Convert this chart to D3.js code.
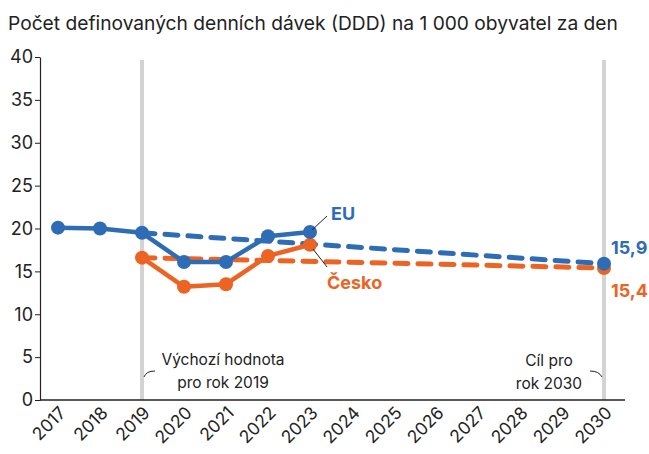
<!DOCTYPE html>
<html>
<head>
<meta charset="utf-8">
<script src="https://cdn.jsdelivr.net/npm/d3@7"></script>
<style>
  body { margin: 0; background: #fff; }
  text { font-family: Inter, Roboto, sans-serif; }
</style>
</head>
<body>
<script>
const years = [2017, 2018, 2019, 2020, 2021, 2022, 2023, 2024, 2025, 2026, 2027, 2028, 2029, 2030];
const yTicks = [0, 5, 10, 15, 20, 25, 30, 35, 40];

const euYears = [2017, 2018, 2019, 2020, 2021, 2022, 2023];
const euValues = [20.1, 20.0, 19.5, 16.1, 16.1, 19.1, 19.6];

const czYears = [2019, 2020, 2021, 2022, 2023];
const czValues = [16.6, 13.2, 13.5, 16.8, 18.1];

// target path from baseline 2019 to 2030
const targetYears = [2019, 2030];
const euTarget = [19.5, 15.9];
const czTarget = [16.6, 15.4];

const w = 649;
const h = 454;
const blue = "#2e6db5";
const orange = "#ec6423";
const grey = "#d3d3d3";

const xScale = d3.scaleLinear().domain([2017, 2030]).range([58, 604]);
const yScale = d3.scaleLinear().domain([0, 40]).range([400, 57]);

const svg = d3.select("body").append("svg").attr("width", w).attr("height", h);

svg.append("text")
  .attr("x", 8)
  .attr("y", 30)
  .attr("font-size", 19.2)
  .attr("fill", "#222")
  .text("Počet definovaných denních dávek (DDD) na 1 000 obyvatel za den");

// grey reference lines
svg.selectAll(".ref")
  .data(targetYears)
  .enter()
  .append("line")
  .attr("x1", (d) => xScale(d))
  .attr("x2", (d) => xScale(d))
  .attr("y1", 60)
  .attr("y2", yScale(0))
  .attr("stroke", grey)
  .attr("stroke-width", 4);

// y axis
const yAxis = d3.axisLeft(yScale).tickValues(yTicks).tickSize(5).tickSizeOuter(0);
const gy = svg.append("g").attr("transform", "translate(40,0)").call(yAxis);
gy.select(".domain").attr("stroke", "#222").attr("stroke-width", 1.2);
gy.selectAll(".tick line").attr("stroke", "#222");
gy.selectAll(".tick text")
  .attr("font-size", 18)
  .attr("fill", "#222")
  .attr("x", -7)
  .attr("font-family", "Inter, Roboto, sans-serif");

// x axis
svg.append("line")
  .attr("x1", 40).attr("x2", 625)
  .attr("y1", yScale(0)).attr("y2", yScale(0))
  .attr("stroke", "#222").attr("stroke-width", 1.4);

svg.selectAll(".xlab")
  .data(years)
  .enter()
  .append("text")
  .attr("text-anchor", "end")
  .attr("font-size", 17.5)
  .attr("fill", "#222")
  .attr("transform", (d) => "translate(" + (xScale(d) + 9) + "," + (yScale(0) + 14) + ") rotate(-45)")
  .text((d) => d);

// annotations
const ann = svg.append("g").attr("font-size", 15.5).attr("fill", "#222").attr("text-anchor", "middle");
ann.append("text").attr("x", 223).attr("y", 365).text("Výchozí hodnota");
ann.append("text").attr("x", 223).attr("y", 388).text("pro rok 2019");
ann.append("text").attr("x", 549).attr("y", 366).text("Cíl pro");
ann.append("text").attr("x", 549).attr("y", 389).text("rok 2030");

svg.append("path")
  .attr("d", "M" + (xScale(2019) + 2) + ",377 Q" + (xScale(2019) + 4) + ",371 " + (xScale(2019) + 13) + ",371")
  .attr("fill", "none").attr("stroke", "#222").attr("stroke-width", 1);
svg.append("path")
  .attr("d", "M" + (xScale(2030) - 14) + ",371 Q" + (xScale(2030) - 5) + ",371 " + (xScale(2030) - 2) + ",377")
  .attr("fill", "none").attr("stroke", "#222").attr("stroke-width", 1);

const line = d3.line().x((d) => xScale(d[0])).y((d) => yScale(d[1]));

function dashed(vals, color) {
  svg.append("path")
    .datum(targetYears.map((y, i) => [y, vals[i]]))
    .attr("d", line)
    .attr("fill", "none")
    .attr("stroke", color)
    .attr("stroke-width", 5)
    .attr("stroke-linecap", "round")
    .attr("stroke-dasharray", "13,10");
}

function solid(ys, vals, color) {
  const pts = ys.map((y, i) => [y, vals[i]]);
  svg.append("path")
    .datum(pts)
    .attr("d", line)
    .attr("fill", "none")
    .attr("stroke", color)
    .attr("stroke-width", 4.5)
    .attr("stroke-linejoin", "round");
  svg.append("g")
    .selectAll("circle")
    .data(pts)
    .enter()
    .append("circle")
    .attr("cx", (d) => xScale(d[0]))
    .attr("cy", (d) => yScale(d[1]))
    .attr("r", 7)
    .attr("fill", color);
}

dashed(czTarget, orange);
dashed(euTarget, blue);
solid(czYears, czValues, orange);
solid(euYears, euValues, blue);

// target dots
svg.append("circle").attr("cx", xScale(2030)).attr("cy", yScale(czTarget[1])).attr("r", 7).attr("fill", orange);
svg.append("circle").attr("cx", xScale(2030)).attr("cy", yScale(euTarget[1])).attr("r", 7).attr("fill", blue);

// series labels with leaders
svg.append("line").attr("x1", 312).attr("y1", 230).attr("x2", 327).attr("y2", 216).attr("stroke", "#222").attr("stroke-width", 1);
svg.append("line").attr("x1", 313).attr("y1", 249).attr("x2", 327).attr("y2", 267).attr("stroke", "#222").attr("stroke-width", 1);

svg.append("text").attr("x", 331).attr("y", 220).attr("font-size", 18).attr("font-weight", "bold").attr("fill", blue).text("EU");
svg.append("text").attr("x", 327).attr("y", 289).attr("font-size", 18).attr("font-weight", "bold").attr("fill", orange).text("Česko");

svg.append("text").attr("x", 611).attr("y", 254).attr("font-size", 18).attr("font-weight", "bold").attr("fill", blue).text("15,9");
svg.append("text").attr("x", 611).attr("y", 297).attr("font-size", 18).attr("font-weight", "bold").attr("fill", orange).text("15,4");
</script>
</body>
</html>
